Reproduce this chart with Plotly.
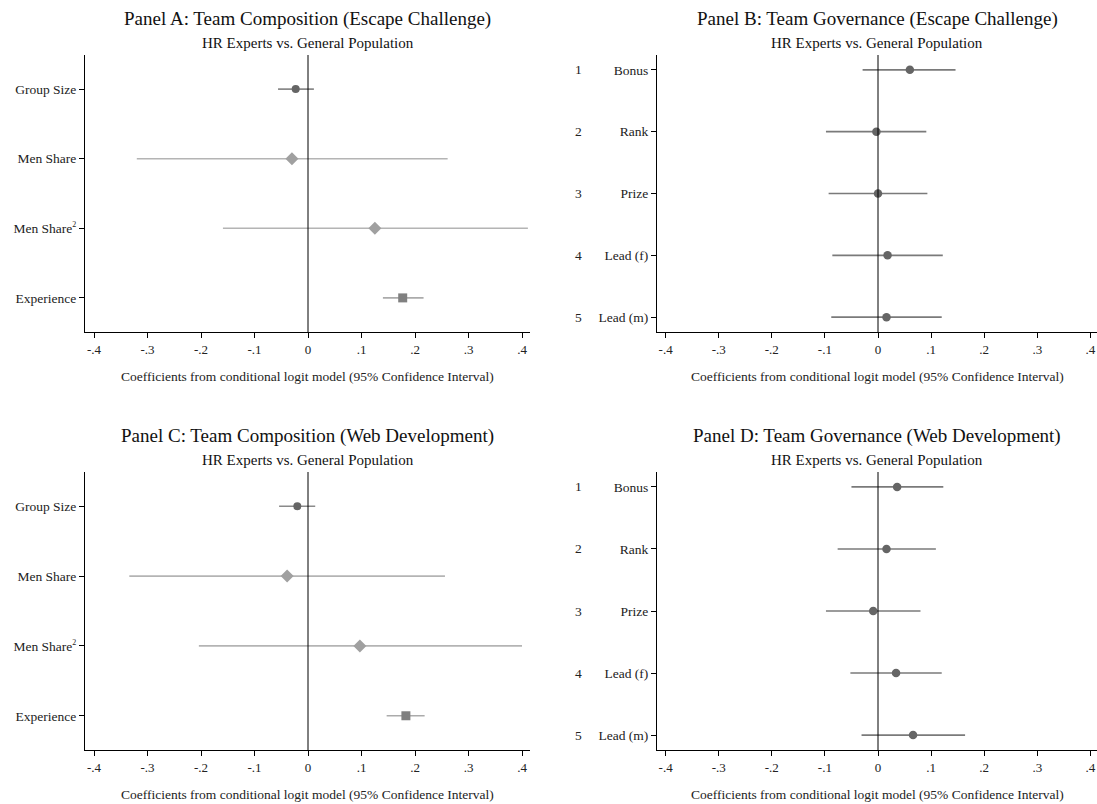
import plotly.graph_objects as go

# ---------------- data ----------------
comp_labels = ["Group Size", "Men Share", "Men Share<sup><span style='font-size:8px'>2</span></sup>", "Experience"]
gov_labels = ["Bonus", "Rank", "Prize", "Lead (f)", "Lead (m)"]
gov_numbers = ["1", "2", "3", "4", "5"]

# Panel A (Escape Challenge, composition)
a_coef = [-0.023, -0.030, 0.125, 0.177]
a_lo = [-0.056, -0.320, -0.159, 0.140]
a_hi = [0.011, 0.261, 0.411, 0.216]

# Panel B (Escape Challenge, governance)
b_coef = [0.060, -0.003, 0.000, 0.018, 0.016]
b_lo = [-0.029, -0.098, -0.093, -0.086, -0.088]
b_hi = [0.146, 0.091, 0.093, 0.122, 0.120]

# Panel C (Web Development, composition)
c_coef = [-0.020, -0.039, 0.097, 0.183]
c_lo = [-0.054, -0.334, -0.204, 0.147]
c_hi = [0.0135, 0.256, 0.400, 0.218]

# Panel D (Web Development, governance)
d_coef = [0.036, 0.016, -0.009, 0.034, 0.066]
d_lo = [-0.050, -0.076, -0.098, -0.052, -0.031]
d_hi = [0.123, 0.109, 0.080, 0.120, 0.164]

x_ticks = [-0.4, -0.3, -0.2, -0.1, 0, 0.1, 0.2, 0.3, 0.4]
x_ticktext = ["-.4", "-.3", "-.2", "-.1", "0", ".1", ".2", ".3", ".4"]

titles = [
    "Panel A: Team Composition (Escape Challenge)",
    "Panel B: Team Governance (Escape Challenge)",
    "Panel C: Team Composition (Web Development)",
    "Panel D: Team Governance (Web Development)",
]
subtitle = "HR Experts vs. General Population"
xtitle = "Coefficients from conditional logit model (95% Confidence Interval)"

# ---------------- styles ----------------
FONT = "Liberation Serif"
comp_styles = [
    dict(symbol="circle", msize=8, mcolor="#656565", lcolor="#8a8a8a"),
    dict(symbol="diamond", msize=10, mcolor="#a0a0a0", lcolor="#b4b4b4"),
    dict(symbol="diamond", msize=10, mcolor="#a0a0a0", lcolor="#b4b4b4"),
    dict(symbol="square", msize=9, mcolor="#808080", lcolor="#ababab"),
]
gov_style = dict(symbol="circle", msize=8.5, mcolor="#656565", lcolor="#7a7a7a")

# the page's body margin is removed by a post script, so the figure fills the window
OFF = 0
W, H = 1097, 804
# plot-area pixel boxes in page coordinates (left, right, top, bottom, zero-pixel, px-per-unit)
boxes = [
    (85, 530, 55, 332, 308, 535),
    (657, 1097, 55, 332, 878, 531),
    (85, 530, 472, 750, 308, 535),
    (657, 1097, 472, 750, 878, 531),
]

fig = go.Figure()

panels = [
    (comp_labels, a_coef, a_lo, a_hi, "comp"),
    (gov_labels, b_coef, b_lo, b_hi, "gov"),
    (comp_labels, c_coef, c_lo, c_hi, "comp"),
    (gov_labels, d_coef, d_lo, d_hi, "gov"),
]


def px(xp):
    return (xp - OFF) / W


def py(yp):
    return 1 - (yp - OFF) / H


layout_axes = {}
annotations = []
shapes = []
for i, (labels, coef, lo, hi, kind) in enumerate(panels):
    n = i + 1
    xa = "x" if n == 1 else f"x{n}"
    ya = "y" if n == 1 else f"y{n}"
    xkey = "xaxis" if n == 1 else f"xaxis{n}"
    ykey = "yaxis" if n == 1 else f"yaxis{n}"
    pos = list(range(1, len(labels) + 1))
    for j in range(len(labels)):
        st = comp_styles[j] if kind == "comp" else gov_style
        fig.add_trace(go.Scatter(
            x=[lo[j], hi[j]], y=[pos[j], pos[j]], mode="lines",
            line=dict(color=st["lcolor"], width=1.6),
            xaxis=xa, yaxis=ya, showlegend=False, hoverinfo="skip"))
        fig.add_trace(go.Scatter(
            x=[coef[j]], y=[pos[j]], mode="markers",
            marker=dict(symbol=st["symbol"], size=st["msize"], color=st["mcolor"],
                        line=dict(width=0)),
            xaxis=xa, yaxis=ya, showlegend=False))
    l, r, t, b, z, u = boxes[i]
    xr = [(l - z) / u, (r - z) / u]
    if kind == "comp":
        yr = [len(labels) + 0.49, 0.51]
    else:
        yr = [len(labels) + 0.24, 0.76]
    layout_axes[xkey] = dict(
        domain=[px(l), px(r)], range=xr, anchor=ya, automargin=False,
        tickvals=x_ticks, ticktext=x_ticktext, ticks="outside", ticklen=5,
        tickcolor="black", showline=True, linecolor="black", linewidth=1,
        showgrid=False, zeroline=False, mirror=False,
        tickfont=dict(family=FONT, size=13, color="#222"),
    )
    layout_axes[ykey] = dict(
        domain=[py(b), py(t)], range=yr, anchor=xa, automargin=False,
        tickvals=pos, ticktext=labels, ticks="outside", ticklen=5,
        tickcolor="black", showline=True, linecolor="black", linewidth=1,
        showgrid=False, zeroline=False,
        tickfont=dict(family=FONT, size=13.5, color="#222"),
    )
    # zero reference line
    shapes.append(dict(type="line", xref=xa, yref=f"{ya} domain", x0=0, x1=0, y0=0, y1=1,
                       line=dict(color="black", width=1)))
    cx = px((l + r) / 2)
    annotations.append(dict(text=titles[i], x=cx, y=py(t - 36), xref="paper", yref="paper",
                            showarrow=False, font=dict(family=FONT, size=19, color="#111"),
                            xanchor="center", yanchor="middle"))
    annotations.append(dict(text=subtitle, x=cx, y=py(t - 12), xref="paper", yref="paper",
                            showarrow=False, font=dict(family=FONT, size=15, color="#111"),
                            xanchor="center", yanchor="middle"))
    annotations.append(dict(text=xtitle, x=cx, y=py(b + 44), xref="paper", yref="paper",
                            showarrow=False, font=dict(family=FONT, size=13.5, color="#222"),
                            xanchor="center", yanchor="middle"))
    if kind == "gov":
        for j, num in enumerate(gov_numbers):
            annotations.append(dict(text=num, x=px(l - 79), y=pos[j], xref="paper", yref=ya,
                                    showarrow=False, font=dict(family=FONT, size=13.5, color="#222"),
                                    xanchor="center", yanchor="middle"))

fig.update_layout(
    width=W, height=H,
    margin=dict(l=0, r=0, t=0, b=0),
    paper_bgcolor="white", plot_bgcolor="white",
    annotations=annotations, shapes=shapes,
    **layout_axes,
)

fig.write_html(
    "out.html",
    config={"displayModeBar": False},
    post_script="document.body.style.margin='0';document.body.style.overflow='hidden';"
                "document.documentElement.style.overflow='hidden';",
)
